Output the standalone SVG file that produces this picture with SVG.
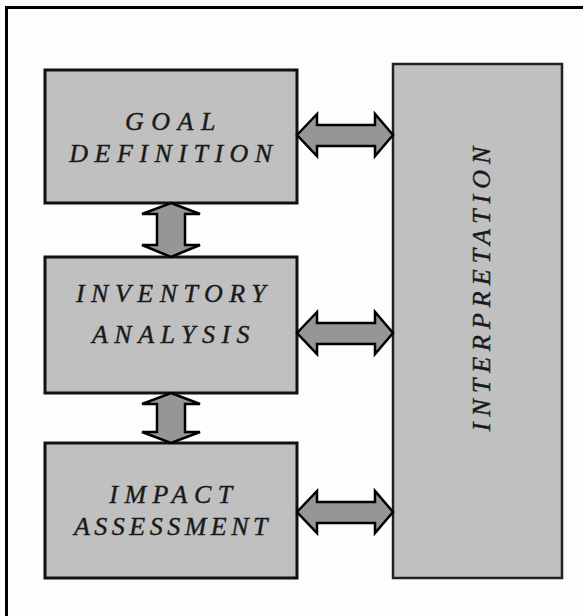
<svg xmlns="http://www.w3.org/2000/svg" width="583" height="616" viewBox="0 0 583 616">
<style>
.bg{fill:#fdfdfd}
.frame{fill:none;stroke:#000;stroke-width:3}
.box{fill:#c0c0c0;stroke:#111;stroke-width:3}
.ibox{fill:#c0c0c0;stroke:#222;stroke-width:2.5}
.arrow{fill:#969696;stroke:#000;stroke-width:2.5;stroke-linejoin:miter}
.lbl{font-family:"Liberation Serif",serif;font-style:italic;font-weight:normal;font-size:26px;fill:#1a1a1a;text-anchor:middle;stroke:#1a1a1a;stroke-width:0.4}
</style>
<rect class="bg" x="0" y="0" width="583" height="616"/>
<rect class="frame" x="6.5" y="7.5" width="600" height="630"/>
<g id="goal">
<rect class="box" x="45" y="70" width="252" height="133"/>
<text class="lbl" x="174" y="130" letter-spacing="7.5">GOAL</text>
<text class="lbl" x="174" y="162" letter-spacing="6.5">DEFINITION</text>
</g>
<g id="inventory">
<rect class="box" x="45" y="257" width="252" height="136"/>
<text class="lbl" x="174" y="302" letter-spacing="6.5">INVENTORY</text>
<text class="lbl" x="174" y="343" letter-spacing="6.5">ANALYSIS</text>
</g>
<g id="impact">
<rect class="box" x="45" y="443" width="252" height="135"/>
<text class="lbl" x="174" y="503" letter-spacing="6.5">IMPACT</text>
<text class="lbl" x="173" y="535" letter-spacing="4.5">ASSESSMENT</text>
</g>
<g id="interpretation">
<rect class="ibox" x="393" y="64" width="169" height="514"/>
<text class="lbl" transform="translate(490,286) rotate(-90)" x="0" y="0" letter-spacing="6">INTERPRETATION</text>
</g>
<g id="connectors">
<polygon class="arrow" points="297,135 317,114 317,125 375,125 375,114 393,135 375,156 375,146 317,146 317,156"/>
<polygon class="arrow" points="297,333 317,312 317,323 375,323 375,312 393,333 375,354 375,344 317,344 317,354"/>
<polygon class="arrow" points="297,512 317,491 317,502 375,502 375,491 393,512 375,533 375,523 317,523 317,533"/>
<polygon class="arrow" points="171,203 200,214 185,214 185,245 200,245 171,257 142,245 157,245 157,214 142,214"/>
<polygon class="arrow" points="171,393 200,404 185,404 185,432 200,432 171,443 142,432 157,432 157,404 142,404"/>
</g>
</svg>
